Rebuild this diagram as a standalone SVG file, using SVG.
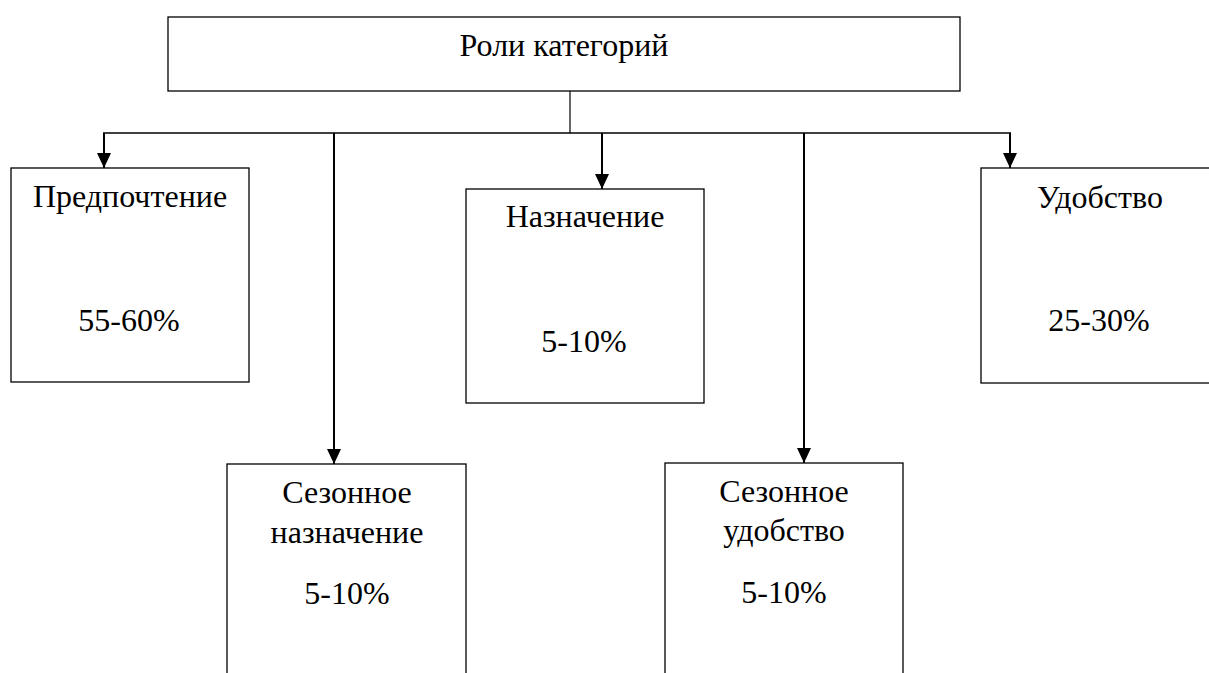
<svg xmlns="http://www.w3.org/2000/svg" width="1209" height="673" viewBox="0 0 1209 673">
<style>
.box{fill:#fff;stroke:#000;stroke-width:1.3}
.t{font-family:'Liberation Serif','Times New Roman',serif;font-size:32px;fill:#000;text-anchor:middle}
.c{fill:none;stroke:#000;stroke-width:2}
.bus{fill:none;stroke:#000;stroke-width:1.6}
.thin{fill:none;stroke:#000;stroke-width:1.2}
</style>
<defs>
<marker id="ah" viewBox="0 0 15 14" refX="15" refY="7" markerWidth="15" markerHeight="14" markerUnits="userSpaceOnUse" orient="auto">
<path d="M0,0 L15,7 L0,14 z" fill="#000"/>
</marker>
</defs>
<rect width="1209" height="673" fill="#fff"/>
<g id="connectors">
<line class="thin" x1="570" y1="91" x2="570" y2="133"/>
<line class="bus" x1="103" y1="133" x2="1011" y2="133"/>
<line class="c" x1="104" y1="133" x2="104" y2="168" marker-end="url(#ah)"/>
<line class="c" x1="334" y1="133" x2="334" y2="464" marker-end="url(#ah)"/>
<line class="c" x1="602" y1="133" x2="602" y2="189" marker-end="url(#ah)"/>
<line class="c" x1="804" y1="133" x2="804" y2="463" marker-end="url(#ah)"/>
<line class="c" x1="1010" y1="133" x2="1010" y2="168" marker-end="url(#ah)"/>
</g>
<g id="root">
<rect class="box" x="168" y="17" width="792" height="74"/>
<text class="t" x="564" y="56">Роли категорий</text>
</g>
<g id="predpochtenie">
<rect class="box" x="11" y="168" width="238" height="214"/>
<text class="t" x="130" y="207">Предпочтение</text>
<text class="t" x="129" y="331">55-60%</text>
</g>
<g id="naznachenie">
<rect class="box" x="466" y="189" width="238" height="214"/>
<text class="t" x="585" y="227">Назначение</text>
<text class="t" x="584" y="352">5-10%</text>
</g>
<g id="udobstvo">
<rect class="box" x="981" y="168" width="238" height="215"/>
<text class="t" x="1100" y="208">Удобство</text>
<text class="t" x="1099" y="331">25-30%</text>
</g>
<g id="sezonnoe-naznachenie">
<rect class="box" x="227" y="464" width="239" height="240"/>
<text class="t" x="347" y="503">Сезонное</text>
<text class="t" x="347" y="543">назначение</text>
<text class="t" x="347" y="604">5-10%</text>
</g>
<g id="sezonnoe-udobstvo">
<rect class="box" x="665" y="463" width="238" height="240"/>
<text class="t" x="784" y="502">Сезонное</text>
<text class="t" x="784" y="541">удобство</text>
<text class="t" x="784" y="603">5-10%</text>
</g>
</svg>
